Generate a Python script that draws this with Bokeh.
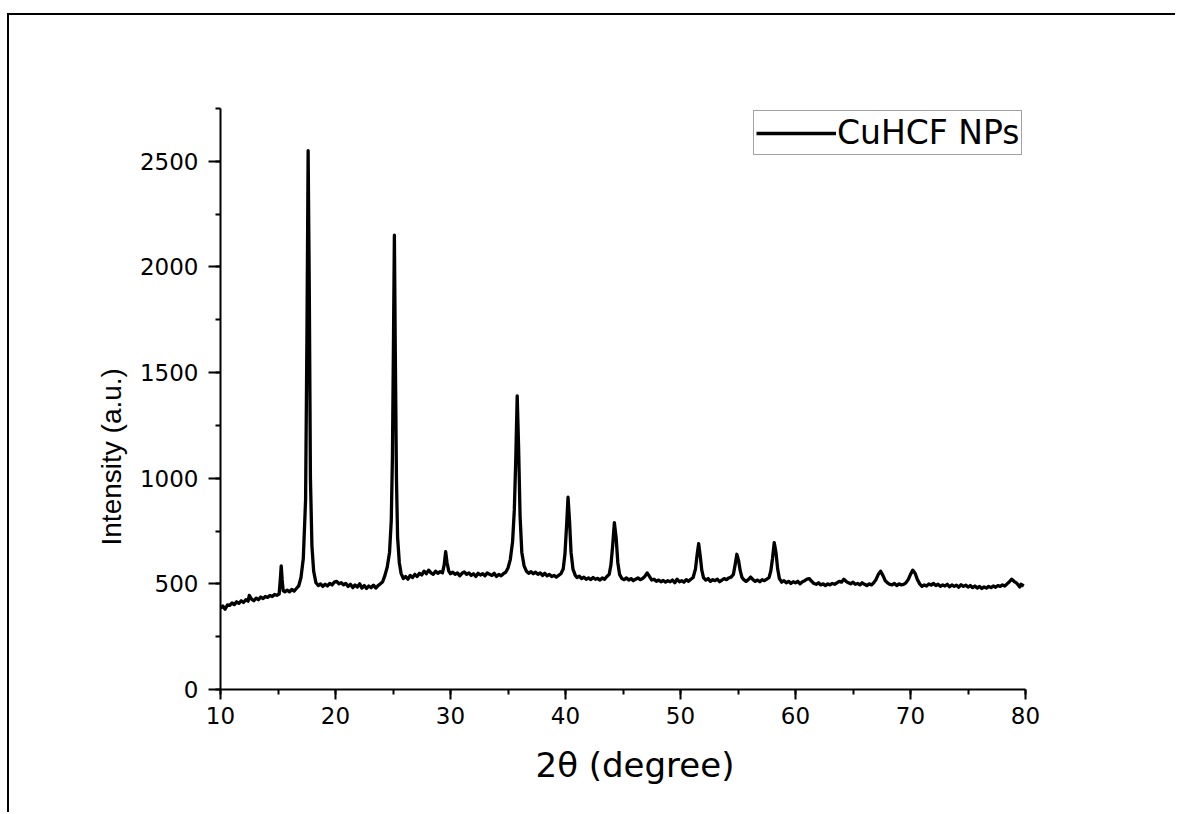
from bokeh.plotting import figure
from bokeh.models import Range1d, SingleIntervalTicker, Legend, LegendItem, Title
from bokeh.embed import file_html
from bokeh.resources import INLINE

two_theta = [
    10.0, 10.2, 10.4, 10.6, 10.8, 11.0, 11.2, 11.4, 11.6, 11.8, 12.0, 12.2, 12.4, 12.5, 12.7, 12.9,
    13.1, 13.3, 13.5, 13.7, 13.9, 14.1, 14.3, 14.5, 14.7, 14.9, 15.1, 15.2, 15.28, 15.36, 15.45, 15.6,
    15.8, 16.0, 16.2, 16.4, 16.6, 16.8, 17.0, 17.2, 17.4, 17.52, 17.62, 17.72, 17.82, 17.95, 18.1, 18.3,
    18.5, 18.7, 18.9, 19.1, 19.3, 19.5, 19.7, 19.9, 20.1, 20.3, 20.5, 20.7, 20.9, 21.1, 21.3, 21.5,
    21.7, 21.9, 22.1, 22.3, 22.5, 22.7, 22.9, 23.1, 23.3, 23.5, 23.7, 23.9, 24.1, 24.3, 24.5, 24.7,
    24.85, 24.95, 25.05, 25.12, 25.2, 25.3, 25.4, 25.55, 25.7, 25.9, 26.1, 26.3, 26.5, 26.7, 26.9, 27.1,
    27.3, 27.5, 27.7, 27.9, 28.1, 28.3, 28.5, 28.7, 28.9, 29.1, 29.3, 29.45, 29.58, 29.7, 29.85, 30.0,
    30.2, 30.4, 30.6, 30.8, 31.0, 31.2, 31.4, 31.6, 31.8, 32.0, 32.2, 32.4, 32.6, 32.8, 33.0, 33.2,
    33.4, 33.6, 33.8, 34.0, 34.2, 34.4, 34.6, 34.8, 35.0, 35.2, 35.4, 35.55, 35.68, 35.8, 35.92, 36.05,
    36.2, 36.4, 36.6, 36.8, 37.0, 37.2, 37.4, 37.6, 37.8, 38.0, 38.2, 38.4, 38.6, 38.8, 39.0, 39.2,
    39.4, 39.6, 39.8, 39.95, 40.1, 40.22, 40.35, 40.48, 40.65, 40.85, 41.0, 41.2, 41.4, 41.6, 41.8, 42.0,
    42.2, 42.4, 42.6, 42.8, 43.0, 43.2, 43.4, 43.6, 43.8, 43.95, 44.1, 44.25, 44.4, 44.55, 44.7, 44.9,
    45.1, 45.3, 45.5, 45.7, 45.9, 46.1, 46.3, 46.5, 46.7, 46.9, 47.1, 47.3, 47.5, 47.7, 47.9, 48.1,
    48.3, 48.5, 48.7, 48.9, 49.1, 49.3, 49.5, 49.7, 49.9, 50.1, 50.3, 50.5, 50.7, 50.9, 51.1, 51.3,
    51.45, 51.58, 51.72, 51.85, 52.0, 52.2, 52.4, 52.6, 52.8, 53.0, 53.2, 53.4, 53.6, 53.8, 54.0, 54.2,
    54.4, 54.6, 54.75, 54.9, 55.05, 55.2, 55.35, 55.5, 55.7, 55.9, 56.1, 56.3, 56.5, 56.7, 56.9, 57.1,
    57.3, 57.5, 57.7, 57.85, 58.0, 58.15, 58.3, 58.45, 58.6, 58.8, 59.0, 59.2, 59.4, 59.6, 59.8, 60.0,
    60.2, 60.4, 60.6, 60.8, 61.0, 61.2, 61.4, 61.6, 61.8, 62.0, 62.2, 62.4, 62.6, 62.8, 63.0, 63.2,
    63.4, 63.6, 63.8, 64.0, 64.2, 64.4, 64.6, 64.8, 65.0, 65.2, 65.4, 65.6, 65.8, 66.0, 66.2, 66.4,
    66.6, 66.8, 67.0, 67.2, 67.4, 67.6, 67.8, 68.0, 68.2, 68.4, 68.6, 68.8, 69.0, 69.2, 69.4, 69.6,
    69.8, 70.0, 70.2, 70.4, 70.6, 70.8, 71.0, 71.2, 71.4, 71.6, 71.8, 72.0, 72.2, 72.4, 72.6, 72.8,
    73.0, 73.2, 73.4, 73.6, 73.8, 74.0, 74.2, 74.4, 74.6, 74.8, 75.0, 75.2, 75.4, 75.6, 75.8, 76.0,
    76.2, 76.4, 76.6, 76.8, 77.0, 77.2, 77.4, 77.6, 77.8, 78.0, 78.2, 78.4, 78.6, 78.8, 79.0, 79.2,
    79.4, 79.5, 79.6, 79.85,
]
intensity = [
    385, 395, 380, 400, 398, 410, 402, 415, 408, 420, 412, 425, 418, 445, 428, 420,
    432, 425, 438, 430, 440, 436, 445, 440, 450, 446, 452, 520, 585, 520, 468, 462,
    470, 462, 474, 466, 478, 490, 530, 620, 900, 1700, 2550, 1900, 1000, 680, 560, 505,
    492, 500, 488, 498, 490, 502, 495, 508, 512, 500, 506, 495, 502, 488, 498, 482,
    495, 485, 500, 480, 492, 478, 490, 482, 494, 480, 492, 500, 510, 540, 580, 650,
    800, 1100, 1700, 2150, 1600, 1000, 720, 600, 550, 525, 535, 522, 540, 530, 545, 535,
    550, 542, 560, 548, 565, 552, 545, 560, 550, 558, 552, 590, 652, 600, 560, 548,
    555, 545, 552, 538, 550, 556, 545, 552, 540, 548, 535, 550, 542, 548, 538, 552,
    545, 540, 550, 535, 545, 538, 548, 555, 575, 615, 700, 850, 1100, 1390, 1150, 820,
    650, 585, 560, 550, 558, 548, 555, 545, 552, 540, 550, 538, 545, 535, 540, 532,
    540, 548, 570, 640, 780, 910, 800, 650, 570, 540, 530, 536, 525, 532, 522, 528,
    520, 530, 522, 526, 518, 528, 522, 535, 545, 590, 680, 790, 720, 600, 545, 525,
    520, 528, 518, 525, 515, 522, 528, 520, 525, 535, 552, 535, 518, 522, 512, 518,
    510, 516, 508, 515, 510, 518, 505, 522, 510, 515, 508, 520, 512, 522, 530, 570,
    640, 690, 630, 565, 530, 518, 525, 512, 520, 515, 522, 510, 518, 525, 520, 528,
    532, 545, 590, 640, 610, 560, 530, 520, 512, 520, 532, 520, 512, 518, 510, 520,
    515, 522, 530, 560, 620, 695, 650, 570, 525, 508, 515, 505, 512, 502, 510, 505,
    512, 500, 510, 515, 522, 525, 512, 502, 498, 505, 495, 500, 492, 500, 495, 502,
    498, 505, 512, 508, 522, 512, 505, 500, 508, 498, 502, 495, 505, 498, 492, 500,
    495, 505, 520, 545, 560, 540, 515, 505, 498, 495, 502, 492, 500, 495, 498, 505,
    520, 545, 565, 550, 520, 500, 488, 495, 490, 500, 494, 502, 492, 498, 488, 495,
    490, 498, 486, 495, 488, 494, 484, 496, 488, 494, 485, 492, 482, 490, 480, 488,
    478, 486, 480, 488, 482, 490, 484, 492, 488, 495, 490, 500, 510, 522, 512, 505,
    492, 485, 498, 490,
]
series_name = "CuHCF NPs"
x_ticks_interval = 10
y_ticks_interval = 500
x_title = "2θ (degree)"
y_title = "Intensity (a.u.)"

W, H = 1168, 799
p = figure(width=W, height=H, output_backend="svg", toolbar_location=None,
           x_range=Range1d(10, 80), y_range=Range1d(0, 2750),
           min_border_left=211, min_border_right=152, min_border_top=93, min_border_bottom=125)
p.styles = {"border-top": "2px solid #000", "border-left": "2px solid #000",
            "margin-top": "13px", "margin-left": "7px"}
p.background_fill_color = "white"
p.border_fill_color = "white"
p.outline_line_color = None
p.grid.visible = False

r = p.line(two_theta, intensity, line_width=3.3, line_color="black", line_join="round")

for ax, tick_out, standoff in ((p.xaxis[0], 10, 7), (p.yaxis[0], 12, 10)):
    ax.axis_line_width = 2
    ax.axis_line_color = "black"
    ax.major_tick_line_width = 2
    ax.minor_tick_line_width = 2
    ax.major_tick_line_color = "black"
    ax.minor_tick_line_color = "black"
    ax.major_tick_out = tick_out
    ax.major_tick_in = 0
    ax.minor_tick_out = 5
    ax.minor_tick_in = 0
    ax.major_label_text_font = "DejaVu Sans"
    ax.major_label_text_font_size = "23px"
    ax.major_label_text_color = "black"
    ax.major_label_standoff = standoff

p.xaxis.ticker = SingleIntervalTicker(interval=x_ticks_interval, num_minor_ticks=2)
p.yaxis.ticker = SingleIntervalTicker(interval=y_ticks_interval, num_minor_ticks=2)

# axis titles as side titles; align="left" so that offset positions them along the axis
p.add_layout(Title(text=x_title, align="left", offset=315, standoff=33,
                   text_font="DejaVu Sans", text_font_size="34px",
                   text_font_style="normal", text_color="black"), "below")
p.add_layout(Title(text=y_title, align="left", offset=144, standoff=20,
                   text_font="Liberation Sans", text_font_size="28px",
                   text_font_style="normal", text_color="black"), "left")

legend = Legend(items=[LegendItem(label=series_name, renderers=[r])],
                location=(533, 534))
legend.glyph_width = 80
legend.glyph_height = 34
legend.label_standoff = 1
legend.padding = 2
legend.spacing = 0
legend.margin = 0
legend.label_text_font = "DejaVu Sans"
legend.label_text_font_size = "33px"
legend.label_text_color = "black"
legend.border_line_color = "#444444"
legend.border_line_width = 1
legend.background_fill_alpha = 1
p.add_layout(legend, "center")

open("out.html", "w").write(file_html(p, INLINE))
